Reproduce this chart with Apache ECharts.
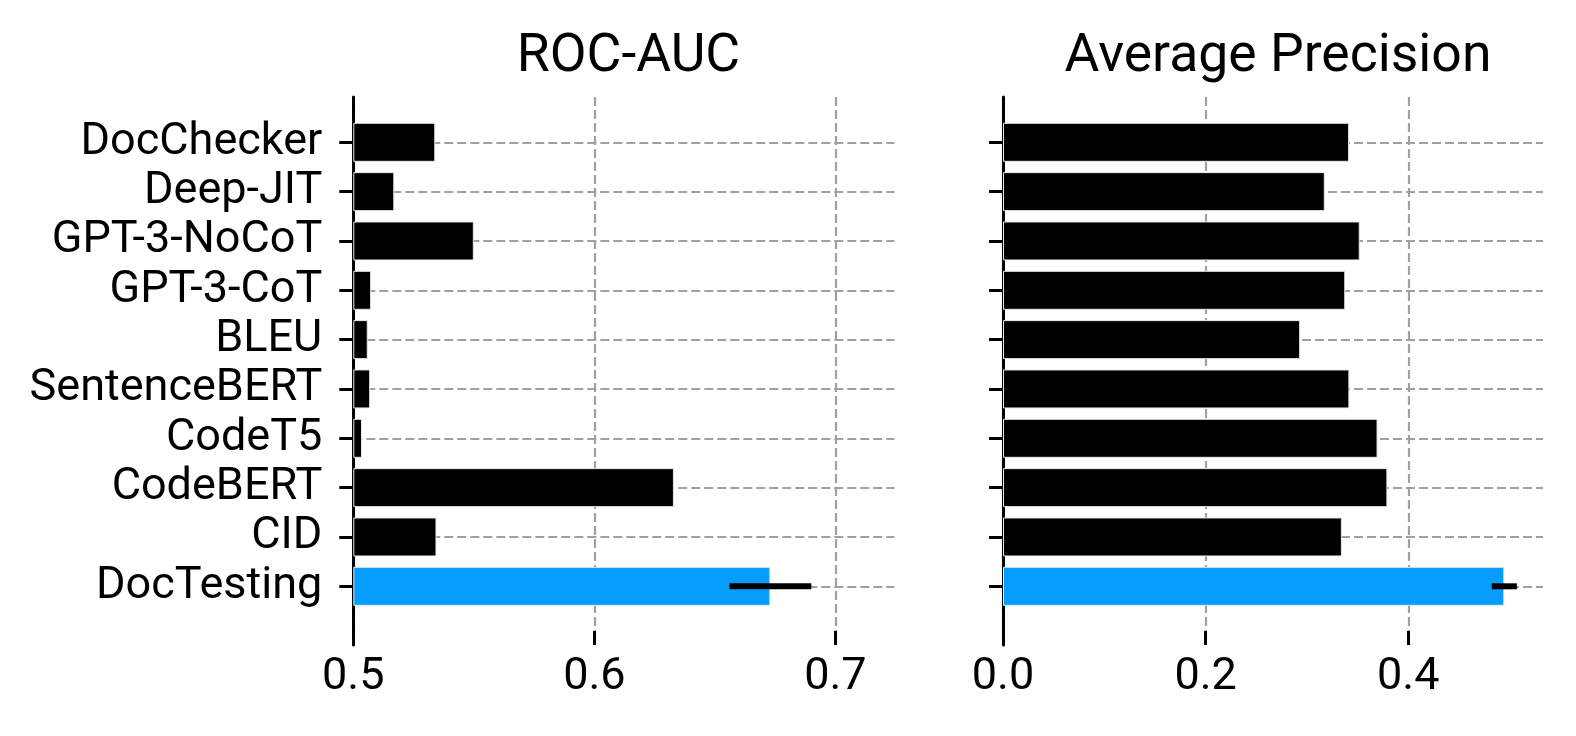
<!DOCTYPE html>
<html>
<head>
<meta charset="utf-8">
<script src="https://cdn.jsdelivr.net/npm/echarts@6/dist/echarts.min.js"></script>
<style>
html,body{margin:0;padding:0;background:#fff;}
#chart{width:1576px;height:736px;}
</style>
</head>
<body>
<div id="chart"></div>
<script>
// ---- data ----
const categories = ['DocChecker','Deep-JIT','GPT-3-NoCoT','GPT-3-CoT','BLEU','SentenceBERT','CodeT5','CodeBERT','CID','DocTesting'];
const rocValues = [0.534, 0.517, 0.550, 0.5074, 0.506, 0.507, 0.5036, 0.633, 0.5345, 0.673];
const rocErr    = [0, 0, 0, 0, 0, 0, 0, 0, 0, 0.017];
const apValues  = [0.3416, 0.3176, 0.3521, 0.3378, 0.2933, 0.3419, 0.3697, 0.3794, 0.3345, 0.4948];
const apErr     = [0, 0, 0, 0, 0, 0, 0, 0, 0, 0.0124];
const rocTicks = [0.5, 0.6, 0.7];
const apTicks  = [0.0, 0.2, 0.4];
const titles = ['ROC-AUC', 'Average Precision'];
const highlight = 'DocTesting';

// ---- style ----
const FONT = 'Roboto';
const BLUE = '#069DFF';
const GRID_COLOR = '#a0a0a0';
const rocRange = [0.5, 0.7245];
const apRange = [0, 0.533];

const chart = echarts.init(document.getElementById('chart'), null, {renderer: 'canvas'});

function barColor(name){ return name === highlight ? BLUE : '#000'; }

function frameX(gi, range, ticks){
  return {
    type: 'value', gridIndex: gi, min: range[0], max: range[1], interval: 0.1 * (gi === 0 ? 1 : 2),
    axisLine: {show: false},
    axisTick: {show: true, inside: true, length: 14, customValues: ticks, lineStyle: {color: '#000', width: 3}},
    axisLabel: {show: true, customValues: ticks, margin: 10, color: '#000', fontFamily: FONT, fontSize: 45,
      formatter: v => Number(v).toFixed(1)},
    splitLine: {show: true, lineStyle: {color: GRID_COLOR, width: 2.2, type: [9, 4]}}
  };
}
function dataX(gi, range){
  return {type: 'value', gridIndex: gi, min: range[0], max: range[1], show: false, splitLine: {show: false}};
}
function frameY(gi){
  return {
    type: 'value', gridIndex: gi, min: 0, max: 1,
    axisLine: {show: true, onZero: false, lineStyle: {color: '#000', width: 3}},
    axisTick: {show: false}, axisLabel: {show: false}, splitLine: {show: false}
  };
}
function dataY(gi, showLabels){
  return {
    type: 'category', gridIndex: gi, data: categories, inverse: true, boundaryGap: false,
    axisLine: {show: false},
    axisTick: {show: true, interval: 0, length: 14, lineStyle: {color: '#000', width: 3}},
    axisLabel: {show: showLabels, interval: 0, margin: 31, color: '#000', fontFamily: FONT, fontSize: 45},
    splitLine: {show: true, interval: 0, lineStyle: {color: GRID_COLOR, width: 2.2, type: [9, 4]}}
  };
}

function errRender(params, api){
  const v = api.value(0), i = api.value(1), e = api.value(2);
  const p1 = api.coord([v - e, i]);
  const p2 = api.coord([v + e, i]);
  return {type: 'line', shape: {x1: p1[0], y1: p1[1], x2: p2[0], y2: p2[1]},
    style: {stroke: '#000', lineWidth: 6}};
}

const rocBase = rocValues.map(() => rocRange[0]);
const rocShown = rocValues.map((v, i) => ({value: v - rocRange[0], itemStyle: {color: barColor(categories[i])}}));
const apShown = apValues.map((v, i) => ({value: v, itemStyle: {color: barColor(categories[i])}}));
const rocErrData = rocValues.map((v, i) => [v, i, rocErr[i]]).filter(d => d[2] > 0);
const apErrData = apValues.map((v, i) => [v, i, apErr[i]]).filter(d => d[2] > 0);

const option = {
  backgroundColor: '#fff',
  animation: false,
  title: [
    {text: titles[0], left: 623.5, textAlign: 'center', top: 26, textStyle: {fontFamily: FONT, fontSize: 53.5, fontWeight: 'normal', color: '#000'}},
    {text: titles[1], left: 1273, textAlign: 'center', top: 26, textStyle: {fontFamily: FONT, fontSize: 53.5, fontWeight: 'normal', color: '#000'}}
  ],
  grid: [
    {left: 353.3, right: 681.5, top: 97, bottom: 91},
    {left: 1003, right: 33, top: 97, bottom: 91},
    {left: 353.3, right: 681.5, top: 142.3, bottom: 149.7},
    {left: 1003, right: 33, top: 142.3, bottom: 149.7}
  ],
  xAxis: [
    frameX(0, rocRange, rocTicks),
    frameX(1, apRange, apTicks),
    dataX(2, rocRange),
    dataX(3, apRange)
  ],
  yAxis: [
    frameY(0),
    frameY(1),
    dataY(2, true),
    dataY(3, false)
  ],
  series: [
    {type: 'bar', xAxisIndex: 2, yAxisIndex: 2, stack: 'roc', data: rocBase, barWidth: 39,
      itemStyle: {color: 'rgba(0,0,0,0)'}, clip: false, silent: true, z: 2},
    {type: 'bar', xAxisIndex: 2, yAxisIndex: 2, stack: 'roc', data: rocShown, barWidth: 39,
      itemStyle: {borderColor: '#e8e8e8', borderWidth: 1}, clip: false, z: 3},
    {type: 'bar', xAxisIndex: 3, yAxisIndex: 3, data: apShown, barWidth: 39,
      itemStyle: {borderColor: '#e8e8e8', borderWidth: 1}, clip: false, z: 3},
    {type: 'custom', xAxisIndex: 2, yAxisIndex: 2, data: rocErrData, renderItem: errRender, encode: {x: 0, y: 1}, z: 5},
    {type: 'custom', xAxisIndex: 3, yAxisIndex: 3, data: apErrData, renderItem: errRender, encode: {x: 0, y: 1}, z: 5}
  ]
};
chart.setOption(option);
</script>
</body>
</html>
